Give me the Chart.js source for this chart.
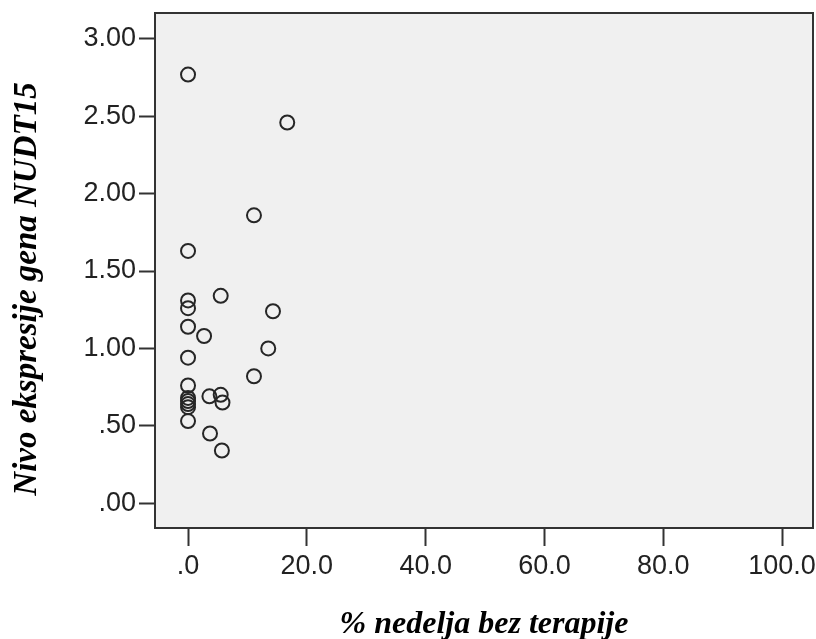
<!DOCTYPE html>
<html lang="sr">
<head>
    <meta charset="UTF-8">
    <title>NUDT15 ekspresija</title>
    <script src="https://cdn.jsdelivr.net/npm/chart.js"></script>
    <style>
        body {
            margin: 0;
            padding: 0;
            background-color: #fff;
        }

        .chart-container {
            width: 816px;
            height: 639px;
        }
    </style>
</head>
<body>
    <div class="chart-container">
        <canvas id="scatterChart"></canvas>
    </div>

    <script>
        // % nedelja bez terapije
        const weeksWithoutTherapy = [
            0, 16.7, 11.1, 0, 0, 0, 5.5, 14.3, 0, 2.7,
            13.5, 0, 11.1, 0, 0, 0, 0, 0, 3.6, 5.5,
            5.8, 0, 3.7, 5.7
        ];
        // Nivo ekspresije gena NUDT15
        const expressionLevel = [
            2.77, 2.46, 1.86, 1.63, 1.31, 1.26, 1.34, 1.24, 1.14, 1.08,
            1.00, 0.94, 0.82, 0.76, 0.68, 0.66, 0.64, 0.62, 0.69, 0.70,
            0.65, 0.53, 0.45, 0.34
        ];
        const xTicks = [0, 20, 40, 60, 80, 100];
        const yTicks = [0, 0.5, 1, 1.5, 2, 2.5, 3];
        const xTitle = '% nedelja bez terapije';
        const yTitle = 'Nivo ekspresije gena NUDT15';

        const points = weeksWithoutTherapy.map((x, i) => ({ x: x, y: expressionLevel[i] }));

        const titleFont = 'italic bold 33px "Liberation Serif", "Times New Roman", serif';

        // light grey plot area, dark frame, rotated y title
        const framePlugin = {
            id: 'frame',
            beforeDraw(chart) {
                const { ctx, chartArea: a } = chart;
                ctx.save();
                ctx.fillStyle = '#f0f0f0';
                ctx.fillRect(a.left, a.top, a.right - a.left, a.bottom - a.top);
                ctx.restore();
            },
            afterDraw(chart) {
                const { ctx, chartArea: a } = chart;
                ctx.save();
                ctx.strokeStyle = '#333';
                ctx.lineWidth = 2;
                ctx.strokeRect(a.left, a.top, a.right - a.left, a.bottom - a.top);

                ctx.translate(36, 289);
                ctx.rotate(-Math.PI / 2);
                ctx.font = titleFont;
                ctx.fillStyle = '#000';
                ctx.textAlign = 'center';
                ctx.textBaseline = 'alphabetic';
                ctx.fillText(yTitle, 0, 0);
                ctx.restore();
            }
        };

        function fmt(v, digits) {
            return v.toFixed(digits).replace(/^0/, '');
        }

        const ctx = document.getElementById('scatterChart').getContext('2d');
        new Chart(ctx, {
            type: 'scatter',
            data: {
                datasets: [{
                    data: points,
                    pointStyle: 'circle',
                    pointRadius: 7,
                    pointHoverRadius: 7,
                    borderWidth: 2,
                    borderColor: '#262626',
                    backgroundColor: 'rgba(0,0,0,0)'
                }]
            },
            options: {
                responsive: true,
                maintainAspectRatio: false,
                animation: false,
                events: [],
                layout: {
                    autoPadding: false,
                    padding: { top: 13, right: 3, left: 0, bottom: 0 }
                },
                plugins: {
                    legend: { display: false },
                    tooltip: { enabled: false }
                },
                scales: {
                    x: {
                        type: 'linear',
                        min: -5.56,
                        max: 105.2,
                        afterFit(scale) {
                            scale.height = 111;
                            scale.paddingLeft = 0;
                            scale.paddingRight = 0;
                        },
                        afterBuildTicks(scale) { scale.ticks = xTicks.map(v => ({ value: v })); },
                        border: { display: false },
                        grid: {
                            drawOnChartArea: false,
                            drawTicks: true,
                            tickLength: 18,
                            tickWidth: 2,
                            tickColor: '#333'
                        },
                        ticks: {
                            color: '#222',
                            padding: 4,
                            maxRotation: 0,
                            font: { family: 'Liberation Sans, Arial, sans-serif', size: 27 },
                            callback: v => fmt(v, 1)
                        },
                        title: {
                            display: true,
                            text: xTitle,
                            color: '#000',
                            padding: { top: 0, bottom: -2 },
                            font: { family: 'Liberation Serif, Times New Roman, serif', size: 32, style: 'italic', weight: 'bold', lineHeight: 1 }
                        }
                    },
                    y: {
                        type: 'linear',
                        min: -0.161,
                        max: 3.168,
                        afterFit(scale) {
                            scale.width = 155;
                            scale.paddingTop = 0;
                            scale.paddingBottom = 0;
                        },
                        afterBuildTicks(scale) { scale.ticks = yTicks.map(v => ({ value: v })); },
                        border: { display: false },
                        grid: {
                            drawOnChartArea: false,
                            drawTicks: true,
                            tickLength: 16,
                            tickWidth: 2,
                            tickColor: '#333'
                        },
                        ticks: {
                            color: '#222',
                            padding: 3,
                            font: { family: 'Liberation Sans, Arial, sans-serif', size: 27 },
                            callback: v => fmt(v, 2)
                        }
                    }
                }
            },
            plugins: [framePlugin]
        });
    </script>
</body>
</html>
